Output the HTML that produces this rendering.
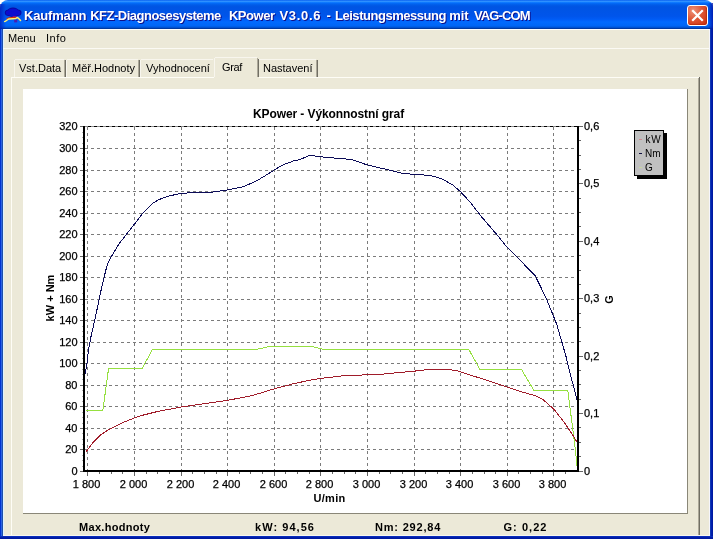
<!DOCTYPE html>
<html><head><meta charset="utf-8"><title>KPower</title>
<style>
html,body{margin:0;padding:0;background:#fff;}
body{width:713px;height:539px;overflow:hidden;position:relative;font-family:"Liberation Sans",sans-serif;font-size:11px;color:#000;}
.abs{position:absolute;}
#tbar{position:absolute;left:0;top:0;width:713px;height:29px;border-radius:8px 8px 0 0;background:linear-gradient(to bottom,#0058ee 0%,#3593ff 4%,#288eff 6%,#127dff 8%,#036ffc 10%,#0262ee 14%,#0057e5 20%,#0054e3 24%,#0055eb 56%,#005bf5 66%,#026afe 76%,#0066f6 88%,#0058de 94%,#0040ab 97%,#003092 100%);}
#ttl{position:absolute;left:0;top:8px;color:#fff;font-weight:bold;font-size:13px;line-height:15px;white-space:pre;text-shadow:1px 1px #0f1089;}
#ttl span{position:absolute;top:0;}
#client{position:absolute;left:0;top:29px;width:713px;height:510px;background:#ece9d8;}
#close{position:absolute;left:687px;top:5px;width:19px;height:19px;border:1px solid #fff;border-radius:3px;background:radial-gradient(circle at 28% 25%,#ee9178 0%,#dd5636 45%,#d23c18 80%,#c83410 100%);box-shadow:inset -1px -1px 1px rgba(160,30,0,0.5);}
.tab{position:absolute;top:59px;height:19px;line-height:18px;white-space:nowrap;}
.sep{position:absolute;top:60px;width:1px;height:17px;}
.hl{position:absolute;background:#f8f6ee;}
.hp{position:absolute;background:#fefdf6;}
.bl{position:absolute;top:521px;font-weight:bold;font-size:11px;white-space:nowrap;letter-spacing:0.3px;}
</style></head><body>
<div id="client"></div>
<div id="tbar"></div>
<div class="abs" style="left:0;top:4px;width:6px;height:25px;background:linear-gradient(to right,rgba(0,30,190,0.8),rgba(0,40,200,0))"></div>
<div class="abs" style="left:708px;top:3px;width:5px;height:26px;background:linear-gradient(to left,rgba(0,20,170,0.85),rgba(0,40,200,0))"></div>
<svg class="abs" style="left:0;top:0" width="30" height="29" viewBox="0 0 30 29">
 <g fill="#0a0aa0"><ellipse cx="13" cy="10.6" rx="5.4" ry="3.1"/><ellipse cx="9" cy="12.8" rx="4.2" ry="3.3"/><ellipse cx="17.3" cy="12.8" rx="4.2" ry="3.3"/><ellipse cx="13.2" cy="14" rx="5.6" ry="3"/></g>
 <g fill="#0c0cd0"><ellipse cx="13" cy="10.8" rx="4.6" ry="2.4"/><ellipse cx="9.2" cy="12.8" rx="3.4" ry="2.5"/><ellipse cx="17.1" cy="12.8" rx="3.4" ry="2.5"/><ellipse cx="13.2" cy="13.8" rx="4.8" ry="2.4"/></g>
 <path d="M12.5 16 L17 16 L16.5 18 L13 18 Z" fill="#6a14a0"/>
 <rect x="14.2" y="19.6" width="3" height="2.8" fill="#4a1cb0"/>
 <path d="M6.6 19.2 C8 18 10 17.6 12 17.8 L16 17.6" fill="none" stroke="#d0300c" stroke-width="1.5"/>
 <path d="M4.6 21.6 C6.4 21 7.4 19.4 9 19 C11 18.7 14 18.8 15.6 18.6 C16.4 18.4 16.8 17.2 17.6 17.6 C18.8 18.4 19.6 19.6 20.6 20.6" fill="none" stroke="#ffee70" stroke-width="1.4" stroke-linecap="round"/>
</svg>
<div id="ttl"><span style="left:24.0px;letter-spacing:-0.17px">Kaufmann </span><span style="left:90.2px;letter-spacing:-0.50px">KFZ-Diagnosesysteme </span><span style="left:228.9px;letter-spacing:-0.45px">KPower </span><span style="left:279.4px;letter-spacing:0.72px">V3.0.6 </span><span style="left:326.6px;letter-spacing:0.00px">- </span><span style="left:335.0px;letter-spacing:-0.47px">Leistungsmessung </span><span style="left:449.2px;letter-spacing:-0.03px">mit </span><span style="left:473.9px;letter-spacing:-0.87px">VAG-COM</span></div>
<div id="close"><svg width="19" height="19" viewBox="0 0 19 19" style="position:absolute;left:0;top:0"><path d="M5 5 L14 14 M14 5 L5 14" stroke="#fff" stroke-width="2.2" stroke-linecap="square"/></svg></div>

<!-- client highlights -->
<div class="abs" style="left:3px;top:29px;width:707px;height:1px;background:#fff"></div>
<div class="abs" style="left:3px;top:29px;width:1px;height:507px;background:#ddf2ff"></div>
<!-- menu -->
<div class="abs" style="left:8px;top:31px;line-height:14px;">Menu</div>
<div class="abs" style="left:46px;top:31px;line-height:14px;letter-spacing:0.5px">Info</div>
<div class="abs" style="left:3px;top:48px;width:707px;height:1px;background:#fbfaf4"></div>

<!-- tab control -->
<div class="hp" style="left:11px;top:77px;width:688px;height:1px;"></div>
<div class="hp" style="left:11px;top:77px;width:1px;height:460px;"></div>
<div class="abs" style="left:699px;top:77px;width:1px;height:460px;background:#716f64"></div>
<div class="abs" style="left:698px;top:78px;width:1px;height:460px;background:#aca899"></div>
<!-- tabs -->
<div class="tab" style="left:19px;">Vst.Data</div>
<div class="tab" style="left:72px;">Měř.Hodnoty</div>
<div class="tab" style="left:146px;">Vyhodnocení</div>
<div class="tab" style="left:263px;">Nastavení</div>
<!-- tab borders -->
<div class="hl" style="left:15px;top:59px;width:49px;height:1px;"></div>
<div class="hl" style="left:14px;top:60px;width:1px;height:17px;"></div>
<div class="sep" style="left:64px;background:#aca899"></div><div class="sep" style="left:65px;background:#716f64"></div>
<div class="hl" style="left:67px;top:59px;width:71px;height:1px;"></div>
<div class="hl" style="left:66px;top:60px;width:1px;height:17px;"></div>
<div class="sep" style="left:138px;background:#aca899"></div><div class="sep" style="left:139px;background:#716f64"></div>
<div class="hl" style="left:141px;top:59px;width:72px;height:1px;"></div>
<div class="hl" style="left:140px;top:60px;width:1px;height:17px;"></div>
<!-- selected tab -->
<div class="abs" style="left:214px;top:57px;width:45px;height:21px;background:#ece9d8;"></div>
<div class="hl" style="left:215px;top:57px;width:42px;height:1px;"></div>
<div class="hl" style="left:214px;top:58px;width:1px;height:19px;"></div>
<div class="abs" style="left:257px;top:58px;width:1px;height:19px;background:#aca899;"></div>
<div class="abs" style="left:258px;top:59px;width:1px;height:18px;background:#716f64;"></div>
<div class="tab" style="left:222px;top:57.5px;letter-spacing:-0.4px">Graf</div>
<div class="hl" style="left:259px;top:59px;width:57px;height:1px;"></div>
<div class="sep" style="left:316px;background:#aca899"></div><div class="sep" style="left:317px;background:#716f64"></div>

<!-- chart panel -->
<div class="abs" style="left:23px;top:89px;width:665px;height:425px;background:#fff;border-right:1px solid #8a8778;border-bottom:1px solid #8a8778;box-sizing:border-box"></div>
<svg id="chart" width="713" height="539" viewBox="0 0 713 539" style="position:absolute;left:0;top:0" font-family="Liberation Sans, sans-serif" font-size="11"><g stroke="#7b7b7b" stroke-width="1" stroke-dasharray="3 3" shape-rendering="crispEdges"><line x1="87.5" y1="126.5" x2="87.5" y2="471.0"/><line x1="134.5" y1="126.5" x2="134.5" y2="471.0"/><line x1="181.5" y1="126.5" x2="181.5" y2="471.0"/><line x1="227.5" y1="126.5" x2="227.5" y2="471.0"/><line x1="274.5" y1="126.5" x2="274.5" y2="471.0"/><line x1="320.5" y1="126.5" x2="320.5" y2="471.0"/><line x1="367.5" y1="126.5" x2="367.5" y2="471.0"/><line x1="414.5" y1="126.5" x2="414.5" y2="471.0"/><line x1="460.5" y1="126.5" x2="460.5" y2="471.0"/><line x1="507.5" y1="126.5" x2="507.5" y2="471.0"/><line x1="553.5" y1="126.5" x2="553.5" y2="471.0"/><line x1="84.5" y1="449.5" x2="578.5" y2="449.5"/><line x1="84.5" y1="428.5" x2="578.5" y2="428.5"/><line x1="84.5" y1="406.5" x2="578.5" y2="406.5"/><line x1="84.5" y1="385.5" x2="578.5" y2="385.5"/><line x1="84.5" y1="363.5" x2="578.5" y2="363.5"/><line x1="84.5" y1="342.5" x2="578.5" y2="342.5"/><line x1="84.5" y1="320.5" x2="578.5" y2="320.5"/><line x1="84.5" y1="299.5" x2="578.5" y2="299.5"/><line x1="84.5" y1="277.5" x2="578.5" y2="277.5"/><line x1="84.5" y1="256.5" x2="578.5" y2="256.5"/><line x1="84.5" y1="234.5" x2="578.5" y2="234.5"/><line x1="84.5" y1="213.5" x2="578.5" y2="213.5"/><line x1="84.5" y1="191.5" x2="578.5" y2="191.5"/><line x1="84.5" y1="170.5" x2="578.5" y2="170.5"/><line x1="84.5" y1="148.5" x2="578.5" y2="148.5"/></g><line x1="80" y1="126.5" x2="583" y2="126.5" stroke="#8c8c8c" stroke-width="1" shape-rendering="crispEdges"/><line x1="88" y1="126.5" x2="577" y2="126.5" stroke="#000" stroke-width="1" stroke-dasharray="3 3" shape-rendering="crispEdges"/><polyline points="85.7,410.1 102.9,410.1 108.6,368.1 142.3,368.1 152.7,349.1 258.0,349.1 270.4,346.2 310.8,346.2 322.0,349.1 468.6,349.1 479.9,369.3 521.4,369.3 533.7,390.1 567.8,390.1 575.6,451.7 577.4,469.9" fill="none" stroke="#96e040" stroke-width="1" shape-rendering="crispEdges"/><polyline points="85.7,452.2 93.0,442.6 100.8,434.8 108.6,429.6 121.6,423.1 134.5,417.9 142.3,415.3 157.9,411.4 181.3,407.0 204.7,403.6 228.0,400.3 252.4,395.5 274.4,388.8 292.8,383.9 308.5,380.5 320.4,378.5 346.7,375.3 367.3,374.9 380.0,374.4 398.0,372.6 414.8,371.1 429.4,369.3 447.3,369.3 457.4,370.8 469.8,374.9 487.7,380.5 507.5,387.2 523.6,392.4 534.8,395.5 543.1,399.7 553.5,408.8 563.9,421.8 571.7,433.5 577.4,442.6" fill="none" stroke="#a01c2a" stroke-width="1" shape-rendering="crispEdges"/><polyline points="85.2,373.8 87.0,363.4 88.5,350.0 91.2,335.5 94.6,320.9 99.1,299.6 101.3,289.2 104.4,275.9 107.5,263.7 112.6,254.5 118.7,244.3 125.8,235.1 134.6,223.9 143.2,212.7 152.4,203.5 159.0,199.5 170.2,195.7 181.4,193.4 194.9,192.5 212.8,192.1 227.4,190.0 242.0,187.1 255.5,181.5 266.7,174.8 274.6,169.8 282.4,165.1 293.6,160.9 300.0,159.5 310.1,155.3 320.2,156.8 333.7,158.0 351.6,159.5 365.1,164.2 378.5,167.6 392.0,170.7 403.2,173.5 414.5,174.3 430.2,175.5 441.4,178.6 452.6,184.9 460.3,191.5 470.4,202.4 480.6,215.7 496.9,234.7 507.1,247.3 521.4,261.6 535.3,275.9 546.4,298.6 556.8,324.5 565.8,355.7 572.3,381.7 577.4,401.0" fill="none" stroke="#0c0c58" stroke-width="1" shape-rendering="crispEdges"/><g fill="#000" shape-rendering="crispEdges"><rect x="83" y="126" width="2" height="346"/><rect x="577" y="126" width="2" height="346"/><rect x="83" y="470" width="496" height="2"/></g><g stroke="#666" stroke-width="1" shape-rendering="crispEdges"><line x1="80" y1="471.5" x2="83" y2="471.5"/><line x1="80" y1="449.5" x2="83" y2="449.5"/><line x1="80" y1="428.5" x2="83" y2="428.5"/><line x1="80" y1="406.5" x2="83" y2="406.5"/><line x1="80" y1="385.5" x2="83" y2="385.5"/><line x1="80" y1="363.5" x2="83" y2="363.5"/><line x1="80" y1="342.5" x2="83" y2="342.5"/><line x1="80" y1="320.5" x2="83" y2="320.5"/><line x1="80" y1="299.5" x2="83" y2="299.5"/><line x1="80" y1="277.5" x2="83" y2="277.5"/><line x1="80" y1="256.5" x2="83" y2="256.5"/><line x1="80" y1="234.5" x2="83" y2="234.5"/><line x1="80" y1="213.5" x2="83" y2="213.5"/><line x1="80" y1="191.5" x2="83" y2="191.5"/><line x1="80" y1="170.5" x2="83" y2="170.5"/><line x1="80" y1="148.5" x2="83" y2="148.5"/><line x1="80" y1="126.5" x2="83" y2="126.5"/><line x1="82" y1="466.5" x2="83" y2="466.5" stroke="#b0b0b0"/><line x1="82" y1="460.5" x2="83" y2="460.5" stroke="#b0b0b0"/><line x1="82" y1="455.5" x2="83" y2="455.5" stroke="#b0b0b0"/><line x1="82" y1="444.5" x2="83" y2="444.5" stroke="#b0b0b0"/><line x1="82" y1="439.5" x2="83" y2="439.5" stroke="#b0b0b0"/><line x1="82" y1="433.5" x2="83" y2="433.5" stroke="#b0b0b0"/><line x1="82" y1="423.5" x2="83" y2="423.5" stroke="#b0b0b0"/><line x1="82" y1="417.5" x2="83" y2="417.5" stroke="#b0b0b0"/><line x1="82" y1="412.5" x2="83" y2="412.5" stroke="#b0b0b0"/><line x1="82" y1="401.5" x2="83" y2="401.5" stroke="#b0b0b0"/><line x1="82" y1="396.5" x2="83" y2="396.5" stroke="#b0b0b0"/><line x1="82" y1="390.5" x2="83" y2="390.5" stroke="#b0b0b0"/><line x1="82" y1="379.5" x2="83" y2="379.5" stroke="#b0b0b0"/><line x1="82" y1="374.5" x2="83" y2="374.5" stroke="#b0b0b0"/><line x1="82" y1="369.5" x2="83" y2="369.5" stroke="#b0b0b0"/><line x1="82" y1="358.5" x2="83" y2="358.5" stroke="#b0b0b0"/><line x1="82" y1="353.5" x2="83" y2="353.5" stroke="#b0b0b0"/><line x1="82" y1="347.5" x2="83" y2="347.5" stroke="#b0b0b0"/><line x1="82" y1="336.5" x2="83" y2="336.5" stroke="#b0b0b0"/><line x1="82" y1="331.5" x2="83" y2="331.5" stroke="#b0b0b0"/><line x1="82" y1="326.5" x2="83" y2="326.5" stroke="#b0b0b0"/><line x1="82" y1="315.5" x2="83" y2="315.5" stroke="#b0b0b0"/><line x1="82" y1="310.5" x2="83" y2="310.5" stroke="#b0b0b0"/><line x1="82" y1="304.5" x2="83" y2="304.5" stroke="#b0b0b0"/><line x1="82" y1="293.5" x2="83" y2="293.5" stroke="#b0b0b0"/><line x1="82" y1="288.5" x2="83" y2="288.5" stroke="#b0b0b0"/><line x1="82" y1="283.5" x2="83" y2="283.5" stroke="#b0b0b0"/><line x1="82" y1="272.5" x2="83" y2="272.5" stroke="#b0b0b0"/><line x1="82" y1="266.5" x2="83" y2="266.5" stroke="#b0b0b0"/><line x1="82" y1="261.5" x2="83" y2="261.5" stroke="#b0b0b0"/><line x1="82" y1="250.5" x2="83" y2="250.5" stroke="#b0b0b0"/><line x1="82" y1="245.5" x2="83" y2="245.5" stroke="#b0b0b0"/><line x1="82" y1="240.5" x2="83" y2="240.5" stroke="#b0b0b0"/><line x1="82" y1="229.5" x2="83" y2="229.5" stroke="#b0b0b0"/><line x1="82" y1="223.5" x2="83" y2="223.5" stroke="#b0b0b0"/><line x1="82" y1="218.5" x2="83" y2="218.5" stroke="#b0b0b0"/><line x1="82" y1="207.5" x2="83" y2="207.5" stroke="#b0b0b0"/><line x1="82" y1="202.5" x2="83" y2="202.5" stroke="#b0b0b0"/><line x1="82" y1="196.5" x2="83" y2="196.5" stroke="#b0b0b0"/><line x1="82" y1="186.5" x2="83" y2="186.5" stroke="#b0b0b0"/><line x1="82" y1="180.5" x2="83" y2="180.5" stroke="#b0b0b0"/><line x1="82" y1="175.5" x2="83" y2="175.5" stroke="#b0b0b0"/><line x1="82" y1="164.5" x2="83" y2="164.5" stroke="#b0b0b0"/><line x1="82" y1="159.5" x2="83" y2="159.5" stroke="#b0b0b0"/><line x1="82" y1="153.5" x2="83" y2="153.5" stroke="#b0b0b0"/><line x1="82" y1="143.5" x2="83" y2="143.5" stroke="#b0b0b0"/><line x1="82" y1="137.5" x2="83" y2="137.5" stroke="#b0b0b0"/><line x1="82" y1="132.5" x2="83" y2="132.5" stroke="#b0b0b0"/><line x1="579" y1="471.5" x2="583" y2="471.5"/><line x1="579" y1="456.5" x2="581" y2="456.5"/><line x1="579" y1="442.5" x2="581" y2="442.5"/><line x1="579" y1="427.5" x2="581" y2="427.5"/><line x1="579" y1="413.5" x2="583" y2="413.5"/><line x1="579" y1="399.5" x2="581" y2="399.5"/><line x1="579" y1="384.5" x2="581" y2="384.5"/><line x1="579" y1="370.5" x2="581" y2="370.5"/><line x1="579" y1="356.5" x2="583" y2="356.5"/><line x1="579" y1="341.5" x2="581" y2="341.5"/><line x1="579" y1="327.5" x2="581" y2="327.5"/><line x1="579" y1="313.5" x2="581" y2="313.5"/><line x1="579" y1="298.5" x2="583" y2="298.5"/><line x1="579" y1="284.5" x2="581" y2="284.5"/><line x1="579" y1="270.5" x2="581" y2="270.5"/><line x1="579" y1="255.5" x2="581" y2="255.5"/><line x1="579" y1="241.5" x2="583" y2="241.5"/><line x1="579" y1="226.5" x2="581" y2="226.5"/><line x1="579" y1="212.5" x2="581" y2="212.5"/><line x1="579" y1="198.5" x2="581" y2="198.5"/><line x1="579" y1="183.5" x2="583" y2="183.5"/><line x1="579" y1="169.5" x2="581" y2="169.5"/><line x1="579" y1="155.5" x2="581" y2="155.5"/><line x1="579" y1="140.5" x2="581" y2="140.5"/><line x1="579" y1="126.5" x2="583" y2="126.5"/><line x1="87.5" y1="472" x2="87.5" y2="476"/><line x1="99.5" y1="472" x2="99.5" y2="474"/><line x1="111.5" y1="472" x2="111.5" y2="474"/><line x1="122.5" y1="472" x2="122.5" y2="474"/><line x1="134.5" y1="472" x2="134.5" y2="476"/><line x1="146.5" y1="472" x2="146.5" y2="474"/><line x1="157.5" y1="472" x2="157.5" y2="474"/><line x1="169.5" y1="472" x2="169.5" y2="474"/><line x1="181.5" y1="472" x2="181.5" y2="476"/><line x1="192.5" y1="472" x2="192.5" y2="474"/><line x1="204.5" y1="472" x2="204.5" y2="474"/><line x1="216.5" y1="472" x2="216.5" y2="474"/><line x1="227.5" y1="472" x2="227.5" y2="476"/><line x1="239.5" y1="472" x2="239.5" y2="474"/><line x1="250.5" y1="472" x2="250.5" y2="474"/><line x1="262.5" y1="472" x2="262.5" y2="474"/><line x1="274.5" y1="472" x2="274.5" y2="476"/><line x1="285.5" y1="472" x2="285.5" y2="474"/><line x1="297.5" y1="472" x2="297.5" y2="474"/><line x1="309.5" y1="472" x2="309.5" y2="474"/><line x1="320.5" y1="472" x2="320.5" y2="476"/><line x1="332.5" y1="472" x2="332.5" y2="474"/><line x1="344.5" y1="472" x2="344.5" y2="474"/><line x1="355.5" y1="472" x2="355.5" y2="474"/><line x1="367.5" y1="472" x2="367.5" y2="476"/><line x1="379.5" y1="472" x2="379.5" y2="474"/><line x1="390.5" y1="472" x2="390.5" y2="474"/><line x1="402.5" y1="472" x2="402.5" y2="474"/><line x1="414.5" y1="472" x2="414.5" y2="476"/><line x1="425.5" y1="472" x2="425.5" y2="474"/><line x1="437.5" y1="472" x2="437.5" y2="474"/><line x1="449.5" y1="472" x2="449.5" y2="474"/><line x1="460.5" y1="472" x2="460.5" y2="476"/><line x1="472.5" y1="472" x2="472.5" y2="474"/><line x1="484.5" y1="472" x2="484.5" y2="474"/><line x1="495.5" y1="472" x2="495.5" y2="474"/><line x1="507.5" y1="472" x2="507.5" y2="476"/><line x1="518.5" y1="472" x2="518.5" y2="474"/><line x1="530.5" y1="472" x2="530.5" y2="474"/><line x1="542.5" y1="472" x2="542.5" y2="474"/><line x1="553.5" y1="472" x2="553.5" y2="476"/><line x1="565.5" y1="472" x2="565.5" y2="474"/></g><g fill="#000" stroke="#000" stroke-width="0.25"><text x="77.5" y="475.0" text-anchor="end">0</text><text x="77.5" y="453.0" text-anchor="end">20</text><text x="77.5" y="432.0" text-anchor="end">40</text><text x="77.5" y="410.0" text-anchor="end">60</text><text x="77.5" y="389.0" text-anchor="end">80</text><text x="77.5" y="367.0" text-anchor="end">100</text><text x="77.5" y="346.0" text-anchor="end">120</text><text x="77.5" y="324.0" text-anchor="end">140</text><text x="77.5" y="303.0" text-anchor="end">160</text><text x="77.5" y="281.0" text-anchor="end">180</text><text x="77.5" y="260.0" text-anchor="end">200</text><text x="77.5" y="238.0" text-anchor="end">220</text><text x="77.5" y="217.0" text-anchor="end">240</text><text x="77.5" y="195.0" text-anchor="end">260</text><text x="77.5" y="174.0" text-anchor="end">280</text><text x="77.5" y="152.0" text-anchor="end">300</text><text x="77.5" y="130.0" text-anchor="end">320</text><text x="584" y="475.0">0</text><text x="584" y="417.0">0,1</text><text x="584" y="360.0">0,2</text><text x="584" y="302.0">0,3</text><text x="584" y="245.0">0,4</text><text x="584" y="187.0">0,5</text><text x="584" y="130.0">0,6</text><text x="86.5" y="488" text-anchor="middle">1 800</text><text x="133.5" y="488" text-anchor="middle">2 000</text><text x="180.5" y="488" text-anchor="middle">2 200</text><text x="226.5" y="488" text-anchor="middle">2 400</text><text x="273.5" y="488" text-anchor="middle">2 600</text><text x="319.5" y="488" text-anchor="middle">2 800</text><text x="366.5" y="488" text-anchor="middle">3 000</text><text x="413.5" y="488" text-anchor="middle">3 200</text><text x="459.5" y="488" text-anchor="middle">3 400</text><text x="506.5" y="488" text-anchor="middle">3 600</text><text x="552.5" y="488" text-anchor="middle">3 800</text></g><text x="328.5" y="118" text-anchor="middle" font-weight="bold" font-size="12" letter-spacing="-0.09">KPower - Výkonnostní graf</text><text x="329.5" y="502" text-anchor="middle" font-weight="bold" font-size="11" letter-spacing="0.3">U/min</text><text transform="translate(54,298) rotate(-90)" text-anchor="middle" font-weight="bold" font-size="11">kW + Nm</text><text transform="translate(613,299.5) rotate(-90)" text-anchor="middle" font-weight="bold" font-size="11">G</text><rect x="637" y="133" width="30" height="46" fill="#000" shape-rendering="crispEdges"/><rect x="634.5" y="130.5" width="29" height="45" fill="#c0c0c0" stroke="#000" shape-rendering="crispEdges"/><g shape-rendering="crispEdges"><rect x="639" y="139" width="3" height="1" fill="#d08890"/><rect x="639" y="153" width="3" height="1" fill="#101040"/><rect x="639" y="167" width="3" height="1" fill="#c8d8a0"/></g><g font-size="10"><text x="645.5" y="143" letter-spacing="0.7">kW</text><text x="645" y="157">Nm</text><text x="645" y="171">G</text></g></svg>
<!-- bottom labels -->
<div class="bl" style="left:79px;">Max.hodnoty</div>
<div class="bl" style="left:255px;letter-spacing:1.05px">kW: 94,56</div>
<div class="bl" style="left:375px;letter-spacing:0.8px">Nm: 292,84</div>
<div class="bl" style="left:503.5px;letter-spacing:1.05px">G: 0,22</div>
<!-- window borders on top -->
<div class="abs" style="left:0;top:29px;width:1px;height:510px;background:#0033d0"></div>
<div class="abs" style="left:1px;top:29px;width:1px;height:510px;background:#2b62e2"></div>
<div class="abs" style="left:2px;top:29px;width:1px;height:510px;background:#1f4fa8"></div>
<div class="abs" style="left:709px;top:30px;width:1px;height:506px;background:#f6f6fc"></div>
<div class="abs" style="left:3px;top:535px;width:707px;height:1px;background:#f8f6ee"></div>
<div class="abs" style="left:710px;top:29px;width:1px;height:510px;background:#1038b4"></div>
<div class="abs" style="left:711px;top:29px;width:1px;height:510px;background:#0020b0"></div>
<div class="abs" style="left:712px;top:29px;width:1px;height:510px;background:#001aa0"></div>
<div class="abs" style="left:0;top:536px;width:713px;height:1px;background:#0a2cbc"></div>
<div class="abs" style="left:0;top:537px;width:713px;height:1px;background:#001ea8"></div>
<div class="abs" style="left:0;top:538px;width:713px;height:1px;background:#0018a0"></div>
</body></html>
